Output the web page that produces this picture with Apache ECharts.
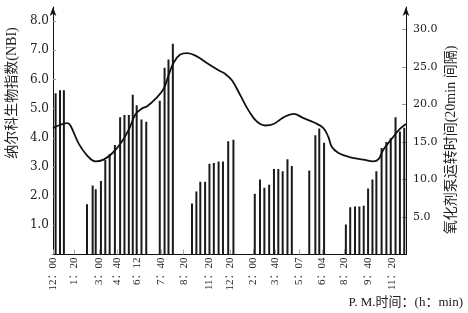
<!DOCTYPE html>
<html>
<head>
<meta charset="utf-8">
<script src="https://cdn.jsdelivr.net/npm/echarts@6/dist/echarts.min.js"></script>
<style>html,body{margin:0;padding:0;background:#fff;}#c{width:468px;height:313px;}</style>
</head>
<body>
<div id="c"></div>
<script>
// x positions in sample-slot units along the time axis
const barPos = [0.6,1.6,2.5,7.8,9.1,9.8,11.0,12.0,13.0,14.2,15.4,16.4,17.4,18.3,19.2,20.3,21.4,
  24.5,25.6,26.5,27.5,31.9,32.9,33.8,34.9,35.9,36.9,38.0,39.0,40.2,41.4,
  46.3,47.5,48.5,49.6,50.7,51.7,52.7,53.8,54.8,58.8,60.2,61.1,62.2,
  67.2,68.2,69.3,70.3,71.3,72.3,73.3,74.2,75.4,76.5,77.5,78.6,79.6,80.6];
// oxidizer pump running time (right axis)
const pumpTime = [21.5,21.9,21.9,6.7,9.2,8.7,9.8,12.6,13.4,14.6,18.3,18.6,18.6,21.3,19.9,18.0,17.7,
  20.5,24.9,26.0,28.1,6.8,8.4,9.7,9.7,12.1,12.2,12.4,12.4,15.1,15.3,
  8.1,10.0,8.9,9.3,11.4,11.4,11.1,12.7,11.8,11.2,15.9,16.8,14.9,
  4.0,6.3,6.4,6.4,6.5,8.8,10.0,11.1,14.2,15.0,15.5,18.3,16.4,16.9];
// Nalco biological index curve (left axis)
const nbiPos = [0,1.3,3.3,4.0,5.9,7.8,9.7,11.6,13.6,15.5,17.4,18.9,20.4,21.6,23.5,25.4,26.5,27.7,
  29.2,30.8,33.0,35.3,38.0,39.5,41.1,43.0,44.9,46.8,48.7,50.6,52.9,55.2,57.5,59.8,62.0,63.2,64.0,
  65.5,68.2,71.2,73.5,74.7,75.8,77.7,79.6,81.0];
const nbiValues = [4.33,4.42,4.50,4.42,3.80,3.40,3.19,3.25,3.47,3.80,4.28,4.80,5.00,5.08,5.33,5.68,6.13,6.58,
  6.85,6.90,6.79,6.56,6.31,6.19,5.96,5.45,4.93,4.55,4.42,4.47,4.70,4.82,4.67,4.53,4.34,4.02,3.68,
  3.48,3.33,3.25,3.19,3.27,3.59,3.96,4.30,4.47];
const xLabelPos = [0,4.8,10.5,14.7,19.4,24.8,30.0,35.9,40.7,46.0,51.0,56.5,61.7,66.8,72.2,77.7];
const xLabels = ['12：00','1：20','3：00','4：40','6：12','7：40','8：20','11：20','12：20','2：00','3：40','5：07','6：04','8：20','9：40','11：20'];
const leftTicks = [1,2,3,4,5,6,7,8];
const rightTicks = [5,10,15,20,25,30];

const chart = echarts.init(document.getElementById('c'), null, {renderer:'canvas'});
const numFont = 'DejaVu Serif';
const cjkFont = '"Liberation Serif", "Noto Sans CJK SC"';
chart.setOption({
  animation: false,
  backgroundColor: '#fff',
  grid: {left: 53, right: 62, top: 7, bottom: 58.5, containLabel: false, outerBoundsMode: 'none'},
  xAxis: {
    type: 'value', min: 0, max: 81,
    splitLine: {show: false},
    axisLine: {show: true, onZero: false, lineStyle: {color: '#111', width: 1}},
    axisTick: {show: true, inside: true, length: 5, customValues: xLabelPos, lineStyle: {color: '#aaa'}},
    axisLabel: {
      customValues: xLabelPos, rotate: 90, margin: 3, color: '#222', fontSize: 11,
      fontFamily: '"Liberation Serif", "Noto Sans CJK SC"',
      formatter: function (v) {
        let best = 0, d = 1e9;
        xLabelPos.forEach(function (p, i) { if (Math.abs(p - v) < d) { d = Math.abs(p - v); best = i; } });
        return xLabels[best];
      }
    }
  },
  yAxis: [
    {
      type: 'value', min: 0, max: 8.48, position: 'left',
      splitLine: {show: false},
      axisLine: {show: true, symbol: ['none', 'arrow'], symbolSize: [5, 9], lineStyle: {color: '#111', width: 1}},
      axisTick: {show: true, inside: true, length: 3, customValues: leftTicks, lineStyle: {color: '#999'}},
      axisLabel: {customValues: leftTicks, margin: 4, color: '#222', fontSize: 12, fontFamily: numFont,
        formatter: function (v) { return v.toFixed(1); }}
    },
    {
      type: 'value', min: 0, max: 33, position: 'right',
      splitLine: {show: false},
      axisLine: {show: true, symbol: ['none', 'arrow'], symbolSize: [5, 9], lineStyle: {color: '#111', width: 1}},
      axisTick: {show: true, inside: true, length: 4, customValues: rightTicks, lineStyle: {color: '#999'}},
      axisLabel: {customValues: rightTicks, margin: 7, color: '#222', fontSize: 11, fontFamily: numFont,
        formatter: function (v) { return v.toFixed(1); }}
    }
  ],
  series: [
    {
      type: 'bar', yAxisIndex: 1, barWidth: 2,
      itemStyle: {color: '#1a1a1a'},
      data: barPos.map(function (p, i) { return [p, pumpTime[i]]; })
    },
    {
      type: 'line', yAxisIndex: 0, smooth: 0.4, showSymbol: false,
      lineStyle: {color: '#111', width: 1.8},
      data: nbiPos.map(function (p, i) { return [p, nbiValues[i]]; }),
      z: 5
    }
  ],
  graphic: [
    {type: 'text', x: 12, y: 93, rotation: Math.PI / 2,
      style: {text: '纳尔科生物指数(NBI)', x: 0, y: 0, align: 'center', verticalAlign: 'middle',
        textAlign: 'center', textVerticalAlign: 'middle', fill: '#222', font: '14px ' + cjkFont}},
    {type: 'text', x: 451, y: 140, rotation: Math.PI / 2,
      style: {text: '氧化剂泵运转时间(20min 间隔)', x: 0, y: 0, align: 'center', verticalAlign: 'middle',
        textAlign: 'center', textVerticalAlign: 'middle', fill: '#222', font: '14px ' + cjkFont}},
    {type: 'text', x: 463, y: 303,
      style: {text: 'P. M.时间：(h：min)', x: 0, y: 0, align: 'right', verticalAlign: 'middle',
        textAlign: 'right', textVerticalAlign: 'middle', fill: '#222', font: '13px ' + cjkFont}}
  ]
});
</script>
</body>
</html>
